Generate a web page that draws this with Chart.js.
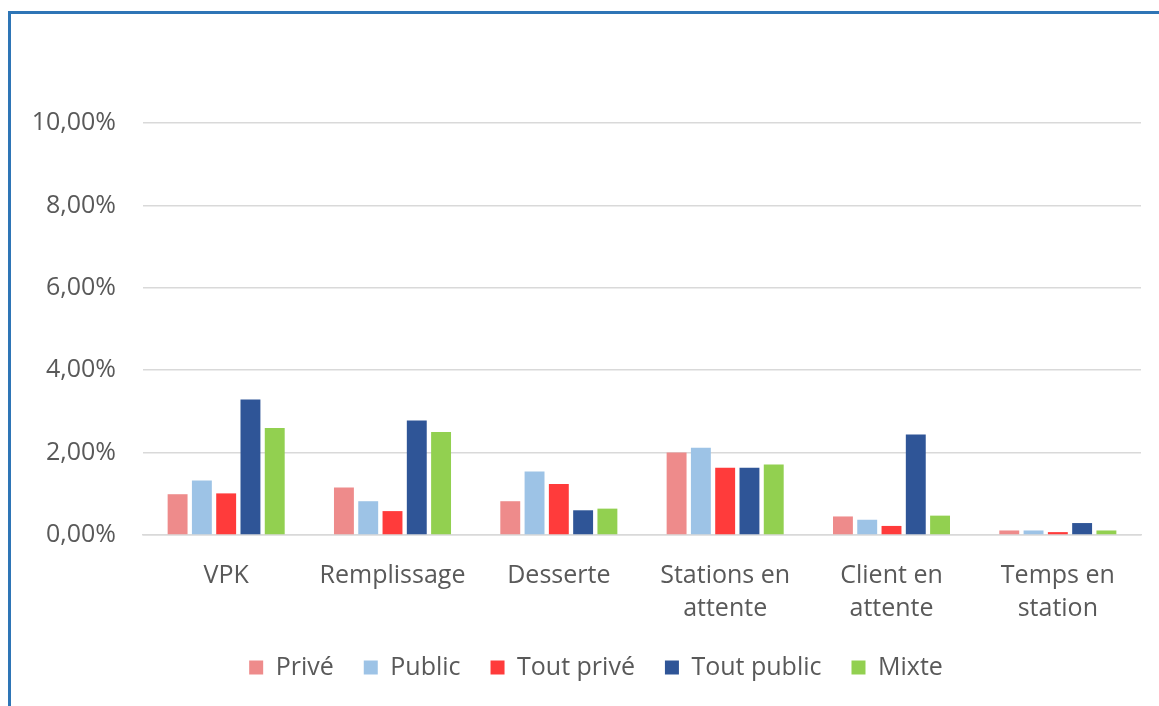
<!DOCTYPE html>
<html>
<head>
<meta charset="utf-8">
<script src="https://cdn.jsdelivr.net/npm/chart.js@4.4.0/dist/chart.umd.min.js"></script>
<style>
  html, body { margin: 0; padding: 0; background: #fff; overflow: hidden; }
  #frame {
    position: absolute; left: 8px; top: 11px;
    width: 1170px; height: 720px;
    border-left: 3px solid #2E75B6; border-top: 3px solid #2E75B6;
  }
  #wrap { position: absolute; left: 11px; top: 14px; width: 1148px; height: 692px; }
</style>
</head>
<body>
<div id="frame"></div>
<div id="wrap"><canvas id="barChart"></canvas></div>
<script>
const categories = [['VPK'], ['Remplissage'], ['Desserte'], ['Stations en', 'attente'], ['Client en', 'attente'], ['Temps en', 'station']];
const seriesNames = ['Privé', 'Public', 'Tout privé', 'Tout public', 'Mixte'];
const prive = [0.99, 1.15, 0.82, 2.00, 0.45, 0.11];
const public_ = [1.32, 0.82, 1.54, 2.12, 0.37, 0.11];
const toutPrive = [1.01, 0.58, 1.24, 1.63, 0.22, 0.07];
const toutPublic = [3.29, 2.78, 0.60, 1.63, 2.44, 0.29];
const mixte = [2.60, 2.50, 0.64, 1.71, 0.47, 0.11];
const colors = ['#EE8B8B', '#9DC3E6', '#FF3B3B', '#2F5597', '#92D050'];

const values = [prive, public_, toutPrive, toutPublic, mixte];
const fontFamily = "'Open Sans', 'Liberation Sans', sans-serif";

// legend sits a little right of the canvas centre in the original
const legendNudge = {
    id: 'legendNudge',
    beforeDraw(chart) {
        chart.legend.left += 20;
        chart.legend.right += 20;
    }
};

const ctx = document.getElementById('barChart').getContext('2d');
new Chart(ctx, {
    type: 'bar',
    data: {
        labels: categories,
        datasets: seriesNames.map((name, i) => ({
            label: name,
            data: values[i],
            backgroundColor: colors[i],
            barPercentage: 0.82,
            categoryPercentage: 0.73
        }))
    },
    options: {
        responsive: true,
        maintainAspectRatio: false,
        animation: false,
        layout: { padding: { left: 0, right: 18, top: 109, bottom: 16 } },
        scales: {
            y: {
                min: 0,
                max: 10,
                afterFit: scale => { scale.width = 132; },
                ticks: {
                    stepSize: 2,
                    color: '#595959',
                    font: { family: fontFamily, size: 25 },
                    padding: 27,
                    callback: val => val.toFixed(2).replace('.', ',') + '%'
                },
                grid: { color: '#D9D9D9', lineWidth: 1.5, drawTicks: false },
                border: { display: false }
            },
            x: {
                afterFit: scale => { scale.height = scale.height - 17; },
                ticks: {
                    color: '#595959',
                    font: { family: fontFamily, size: 25, lineHeight: 1.3 },
                    padding: 17,
                    maxRotation: 0
                },
                grid: { display: false },
                border: { color: '#D9D9D9', width: 1.5 }
            }
        },
        plugins: {
            legend: {
                position: 'bottom',
                labels: {
                    color: '#595959',
                    font: { family: fontFamily, size: 25 },
                    boxWidth: 14,
                    boxHeight: 14,
                    padding: 30
                }
            },
            tooltip: { enabled: false }
        }
    },
    plugins: [legendNudge]
});
</script>
</body>
</html>
